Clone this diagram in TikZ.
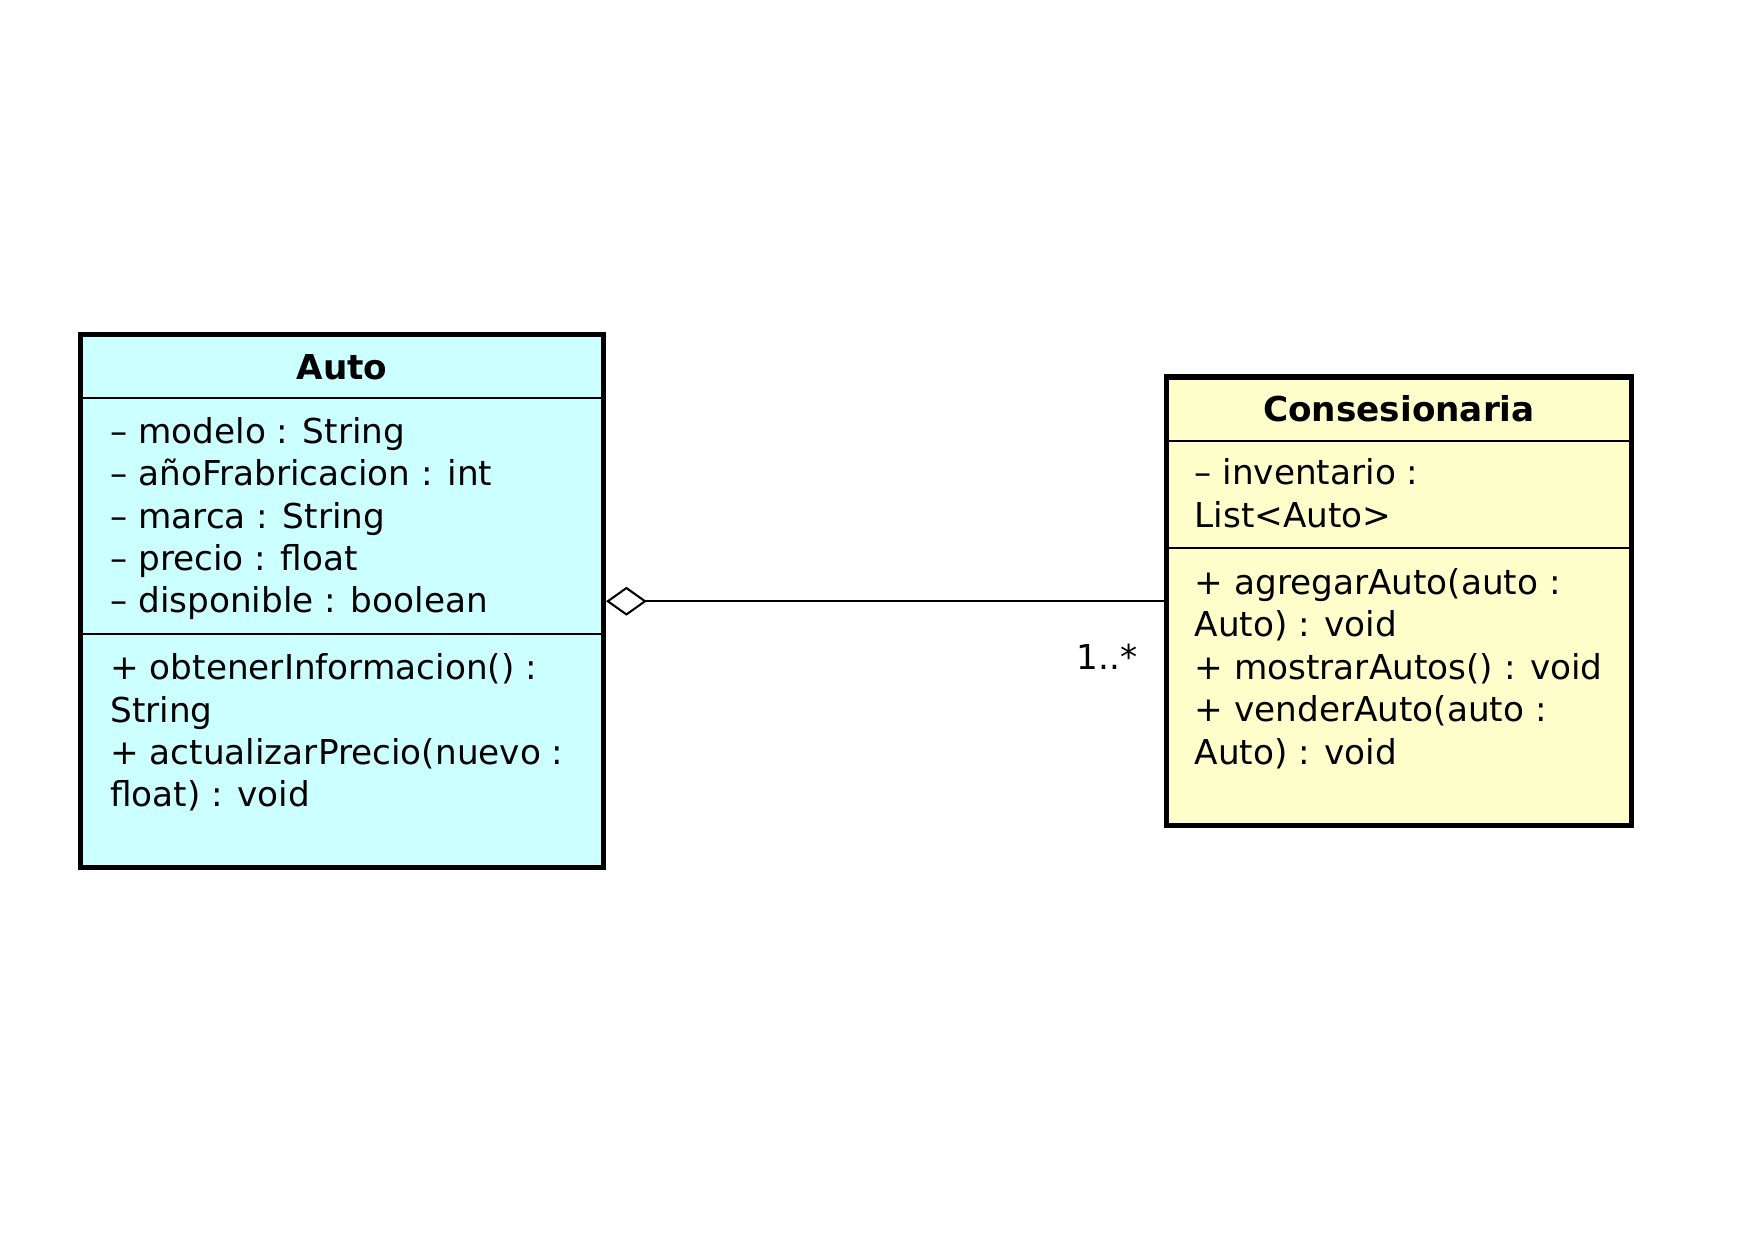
\documentclass[tikz,border=0pt]{standalone}
\usepackage{fontspec}
\setmainfont{DejaVu Sans}
\usetikzlibrary{arrows.meta}
\definecolor{autofill}{RGB}{204,255,255}
\definecolor{consfill}{RGB}{255,255,204}
\begin{document}
\begin{tikzpicture}[
    umlbox/.style={draw=black, line width=0.09cm, inner sep=0pt},
    umltext/.style={anchor=north west, inner sep=0pt, align=left, font=\fontsize{16.5}{20.4}\selectfont},
    umltitle/.style={inner sep=0pt, font=\fontsize{16.5}{20.4}\selectfont\bfseries},
    sepline/.style={line width=0.035cm}
  ]
  \useasboundingbox (0,0) rectangle (29.7,20.985);

  % Class Auto
  \node [umlbox, fill=autofill, minimum width=8.85cm, minimum height=9.02cm] (auto) at (5.786,10.81) {};
  \node [umltitle] (autoname) at (5.786,14.77) {Auto};
  \draw [sepline] (auto.west |- 0,14.25) -- (auto.east |- 0,14.25);
  \node [umltext] (autoattr) at (1.86,13.93) {– modelo : String\\– añoFrabricacion : int\\– marca : String\\– precio : float\\– disponible : boolean};
  \draw [sepline] (auto.west |- 0,10.26) -- (auto.east |- 0,10.26);
  \node [umltext] (autoops) at (1.86,9.93) {+ obtenerInformacion() :\\String\\+ actualizarPrecio(nuevo :\\float) : void};

  % Class Consesionaria
  \node [umlbox, fill=consfill, minimum width=7.87cm, minimum height=7.59cm] (cons) at (23.675,10.81) {};
  \node [umltitle] (consname) at (23.675,14.06) {Consesionaria};
  \draw [sepline] (cons.west |- 0,13.52) -- (cons.east |- 0,13.52);
  \node [umltext] (consattr) at (20.21,13.23) {– inventario :\\List<Auto>};
  \draw [sepline] (cons.west |- 0,11.71) -- (cons.east |- 0,11.71);
  \node [umltext] (consops) at (20.21,11.37) {+ agregarAuto(auto :\\Auto) : void\\+ mostrarAutos() : void\\+ venderAuto(auto :\\Auto) : void};

  % Aggregation
  \draw [line width=0.035cm, {Diamond[open, length=0.69cm, width=0.49cm, line width=0.035cm]}-] (auto) -- (cons);
  \node [anchor=east, inner sep=0pt, font=\fontsize{16.5}{20.4}\selectfont] (mult) at (19.26,9.87) {1..*};
\end{tikzpicture}
\end{document}
